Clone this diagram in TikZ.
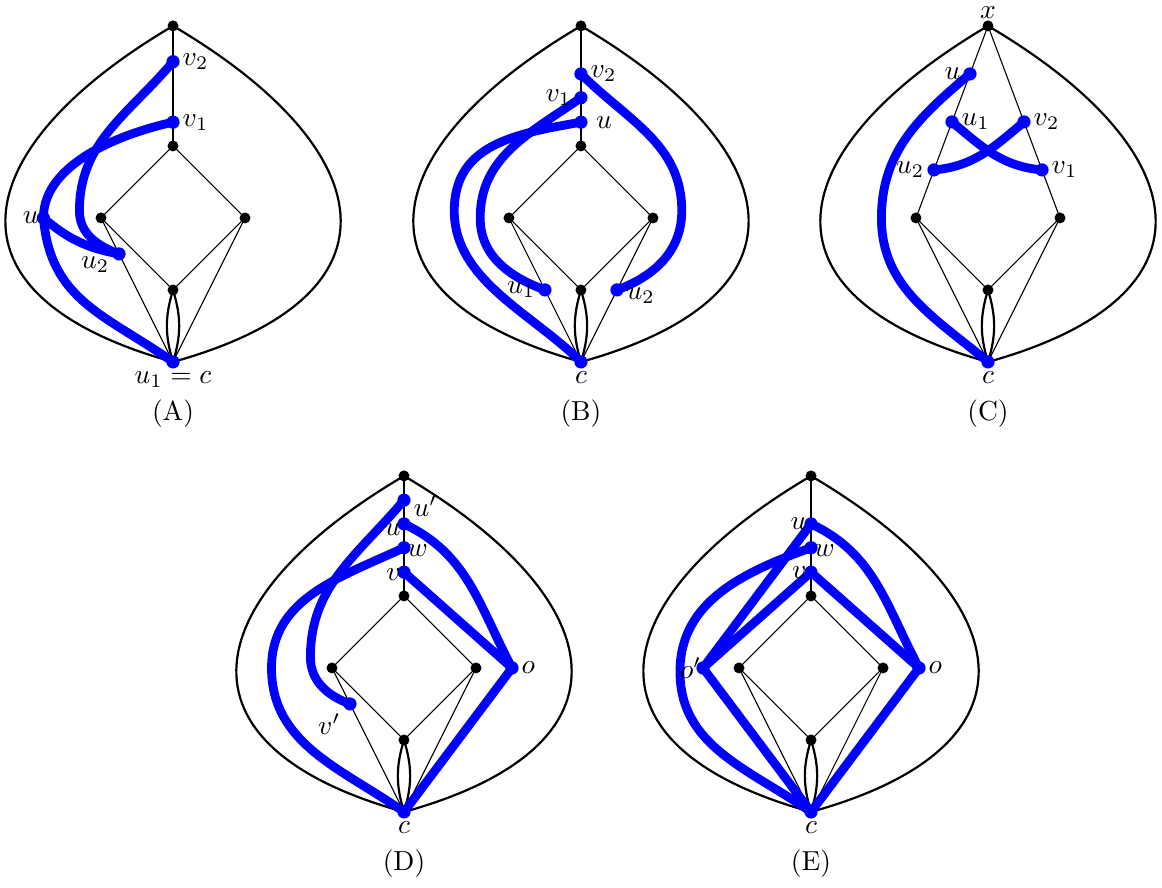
\documentclass[tikz,border=0pt]{standalone}
\usetikzlibrary{calc}

\tikzset{
  frame/.style={line width=0.8pt},
  walk/.style={blue, line width=3.2pt},
}
\newcommand{\dotblack}[1]{\fill (#1) circle (2pt);}
\newcommand{\dotblue}[1]{\fill[blue] (#1) circle (2.4pt);}
% outer lens, double edge and the lower half of the diamond (same in every panel)
\newcommand{\pillow}{%
  \coordinate (top) at (0,4.667);
  \coordinate (dl) at (-1,2);
  \coordinate (dr) at (1,2);
  \coordinate (db) at (0,1);
  \coordinate (c) at (0,0);
  \foreach \s in {1,-1} {
    \begin{scope}[xscale=\s]
      \draw[frame] (c) .. controls (3.35,0.93) and (2.85,2.99) .. (top);
    \end{scope}
  }
  \draw[frame] (db) to[bend left=17] (c);
  \draw[frame] (db) to[bend right=17] (c);
  \draw (dl) -- (db) -- (dr);
  \draw (dl) -- (c) -- (dr);
}

\begin{document}
\begin{tikzpicture}[x=0.92cm, y=0.92cm]
  \useasboundingbox (0,0) rectangle (16.139,12.333);

  % (A)
  \begin{scope}[shift={(2.403,7.306)}]
    \pillow
    \coordinate (dt) at (0,3);
    \coordinate (v2) at (0,4.17);
    \coordinate (v1) at (0,3.33);
    \coordinate (u) at (-1.8,2);
    \coordinate (u2) at ($(dl)!0.25!(c)$);
    \draw (top) -- (dt);
    \draw (dl) -- (dt) -- (dr);
    \draw[walk] (v2) to[out=230,in=90] (-1.3,2.1) to[out=-90,in=160] (u2);
    \draw[walk] (v1) .. controls (-0.6,3.2) and (-1.8,2.8) .. (u);
    \draw[walk] (u) to[out=-85,in=145,looseness=1.1] (c);
    \draw[walk] (u) to[bend right=15] (u2);
    \foreach \p in {top,dt,dl,dr,db} {\dotblack{\p}}
    \foreach \p in {v2,v1,u,u2,c} {\dotblue{\p}}
    \node[right] (lv2) at (v2) {$v_2$};
    \node[right] (lv1) at (v1) {$v_1$};
    \node[left, inner sep=1.5pt] (lu) at (u) {$u$};
    \node[left, yshift=-4pt] (lu2) at (u2) {$u_2$};
    \node[below] (lc) at (c) {$u_1=c$};
    \node (capA) at (0,-0.72) {(A)};
  \end{scope}

  % (B)
  \begin{scope}[shift={(8.069,7.306)}]
    \pillow
    \coordinate (dt) at (0,3);
    \coordinate (v2) at (0,4);
    \coordinate (v1) at (0,3.67);
    \coordinate (u) at (0,3.33);
    \coordinate (u1) at ($(dl)!0.5!(c)$);
    \coordinate (u2) at ($(dr)!0.5!(c)$);
    \draw (top) -- (dt);
    \draw (dl) -- (dt) -- (dr);
    \draw[walk] (v2) to[out=-45,in=90] (1.4,2.1) to[out=-90,in=20] (u2);
    \draw[walk] (v1) to[out=215,in=90] (-1.4,2.0) to[out=-90,in=160] (u1);
    \draw[walk] (u) to[out=190,in=90,looseness=1.1] (-1.76,2.1)
                    to[out=-90,in=135,looseness=0.9] (c);
    \foreach \p in {top,dt,dl,dr,db} {\dotblack{\p}}
    \foreach \p in {v2,v1,u,u1,u2,c} {\dotblue{\p}}
    \node[right] (lv2) at (v2) {$v_2$};
    \node[left] (lv1) at (v1) {$v_1$};
    \node[right=2pt] (lu) at (u) {$u$};
    \node[left] (lu1) at (u1) {$u_1$};
    \node[right, yshift=-2pt] (lu2) at (u2) {$u_2$};
    \node[below] (lc) at (c) {$c$};
    \node (capB) at (0,-0.72) {(B)};
  \end{scope}

  % (C)
  \begin{scope}[shift={(13.722,7.306)}]
    \pillow
    \coordinate (u) at ($(top)!0.25!(dl)$);
    \coordinate (u1) at ($(top)!0.5!(dl)$);
    \coordinate (u2) at ($(top)!0.75!(dl)$);
    \coordinate (v2) at ($(top)!0.5!(dr)$);
    \coordinate (v1) at ($(top)!0.75!(dr)$);
    \draw (dl) -- (top) -- (dr);
    \draw[walk] (u) to[out=220,in=90] (-1.48,2.0) to[out=-90,in=140] (c);
    \draw[walk] (u1) to[out=-40,in=175] (v1);
    \draw[walk] (u2) to[out=5,in=-140] (v2);
    \foreach \p in {top,dl,dr,db} {\dotblack{\p}}
    \foreach \p in {u,u1,u2,v2,v1,c} {\dotblue{\p}}
    \node[above=1.5pt, inner sep=1pt] (lx) at (top) {$x$};
    \node[left] (lu) at (u) {$u$};
    \node[right] (lu1) at (u1) {$u_1$};
    \node[left] (lu2) at (u2) {$u_2$};
    \node[right] (lv2) at (v2) {$v_2$};
    \node[right] (lv1) at (v1) {$v_1$};
    \node[below] (lc) at (c) {$c$};
    \node (capC) at (0,-0.72) {(C)};
  \end{scope}

  % (D)
  \begin{scope}[shift={(5.611,1.056)}]
    \pillow
    \coordinate (dt) at (0,3);
    \coordinate (up) at (0,4.33);
    \coordinate (u) at (0,4);
    \coordinate (w) at (0,3.67);
    \coordinate (v) at (0,3.33);
    \coordinate (o) at (1.5,2);
    \coordinate (vp) at ($(dl)!0.25!(c)$);
    \draw (top) -- (dt);
    \draw (dl) -- (dt) -- (dr);
    \draw[walk] (up) to[out=230,in=90] (-1.3,2.15) to[out=-90,in=160] (vp);
    \draw[walk] (w) to[out=205,in=90] (-1.84,2.0) to[out=-90,in=145] (c);
    \draw[walk] (u) to[out=-25,in=118] (o);
    \draw[walk] (v) -- (o) -- (c);
    \foreach \p in {top,dt,dl,dr,db} {\dotblack{\p}}
    \foreach \p in {up,u,w,v,o,vp,c} {\dotblue{\p}}
    \node[right, yshift=-2pt] (lup) at (up) {$u'$};
    \node[left, inner sep=1pt, yshift=-2pt] (lu) at (u) {$u$};
    \node[right, inner sep=1pt, yshift=-1pt] (lw) at (w) {$w$};
    \node[left, inner sep=1pt, yshift=-1pt] (lv) at (v) {$v$};
    \node[right] (lo) at (o) {$o$};
    \node[below left] (lvp) at (vp) {$v'$};
    \node[below] (lc) at (c) {$c$};
    \node (capD) at (0,-0.72) {(D)};
  \end{scope}

  % (E)
  \begin{scope}[shift={(11.264,1.056)}]
    \pillow
    \coordinate (dt) at (0,3);
    \coordinate (u) at (0,4);
    \coordinate (w) at (0,3.67);
    \coordinate (v) at (0,3.33);
    \coordinate (o) at (1.5,2);
    \coordinate (op) at (-1.5,2);
    \draw (top) -- (dt);
    \draw (dl) -- (dt) -- (dr);
    \draw[walk] (u) to[out=-25,in=118] (o);
    \draw[walk] (v) -- (o) -- (c);
    \draw[walk] (u) -- (op);
    \draw[walk] (v) -- (op) -- (c);
    \draw[walk] (w) to[out=200,in=90] (-1.82,1.95) to[out=-90,in=145] (c);
    \foreach \p in {top,dt,dl,dr,db} {\dotblack{\p}}
    \foreach \p in {u,w,v,o,op,c} {\dotblue{\p}}
    \node[left, inner sep=1.5pt] (lu) at (u) {$u$};
    \node[right, inner sep=1pt, yshift=-1pt] (lw) at (w) {$w$};
    \node[left, inner sep=1.5pt] (lv) at (v) {$v$};
    \node[right] (lo) at (o) {$o$};
    \node[left, inner sep=0.5pt] (lop) at (op) {$o'$};
    \node[below] (lc) at (c) {$c$};
    \node (capE) at (0,-0.72) {(E)};
  \end{scope}
\end{tikzpicture}
\end{document}
